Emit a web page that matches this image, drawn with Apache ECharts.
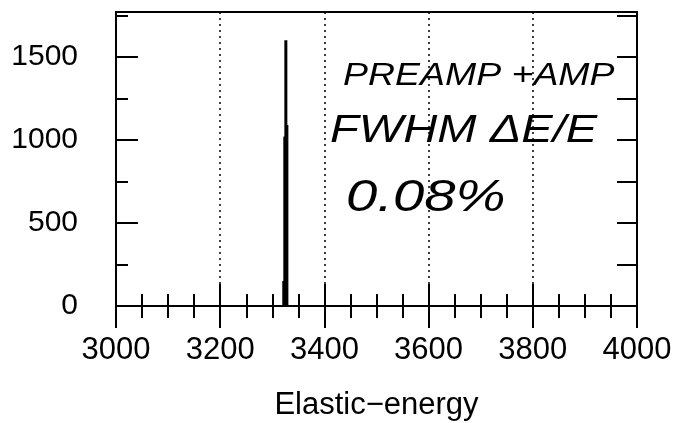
<!DOCTYPE html>
<html>
<head>
<meta charset="utf-8">
<script src="https://cdn.jsdelivr.net/npm/echarts@6/dist/echarts.min.js"></script>
<style>html,body{margin:0;padding:0;background:#fff;}#c{width:675px;height:423px;}</style>
</head>
<body>
<div id="c"></div>
<script>
// Histogram of elastic energy (bin centres and counts)
var binCenter = [3322, 3324, 3326, 3328];
var counts = [150, 1020, 1600, 1090];
var xTicks = [3000, 3200, 3400, 3600, 3800, 4000];
var yTicks = [0, 500, 1000, 1500];
var xName = 'Elastic\u2212energy';
var notes = ['PREAMP +AMP', 'FWHM \u0394E/E', '0.08%'];

var pts = [];
for (var i = 0; i < binCenter.length; i++) pts.push([binCenter[i], counts[i]]);

var chart = echarts.init(document.getElementById('c'), null, {renderer: 'canvas'});
var font = 'Liberation Sans';
var blk = '#000';
function plain(v) { return String(v); }
chart.setOption({
  animation: false,
  backgroundColor: '#fff',
  grid: {left: 116, right: 38, top: 12, bottom: 117, show: true, borderColor: blk, borderWidth: 2,
         backgroundColor: 'transparent', containLabel: false, outerBoundsMode: 'none'},
  xAxis: [{
    type: 'value', min: xTicks[0], max: xTicks[xTicks.length - 1], interval: xTicks[1] - xTicks[0], position: 'bottom',
    axisLine: {show: false},
    axisTick: {inside: true, length: 22, lineStyle: {color: blk, width: 2}},
    minorTick: {show: true, splitNumber: 4, length: 12, lineStyle: {color: blk, width: 2}},
    axisLabel: {color: blk, fontFamily: font, fontSize: 31, margin: 29, formatter: plain},
    splitLine: {show: true, lineStyle: {color: blk, type: [2, 4], width: 1.5}},
    name: xName, nameLocation: 'middle', nameGap: 84,
    nameTextStyle: {color: blk, fontFamily: font, fontSize: 31}
  }, {
    type: 'value', min: xTicks[0], max: xTicks[xTicks.length - 1], interval: xTicks[1] - xTicks[0], position: 'top',
    axisLine: {show: false},
    axisTick: {inside: true, length: 22, lineStyle: {color: blk, width: 2}},
    minorTick: {show: true, splitNumber: 4, length: 12, lineStyle: {color: blk, width: 2}},
    axisLabel: {show: false}, splitLine: {show: false}
  }],
  yAxis: [{
    type: 'value', min: 0, max: 1770, interval: yTicks[1] - yTicks[0], position: 'left',
    axisLine: {show: false},
    axisTick: {inside: true, length: 22, lineStyle: {color: blk, width: 2}},
    axisLabel: {color: blk, fontFamily: font, fontSize: 30, margin: 38, showMaxLabel: false, formatter: plain},
    splitLine: {show: false}
  }, {
    type: 'value', min: 0, max: 1770, interval: 250, position: 'left', offset: 0,
    axisLine: {show: false},
    axisTick: {inside: true, length: 12, lineStyle: {color: blk, width: 2}},
    axisLabel: {show: false}, splitLine: {show: false}
  }, {
    type: 'value', min: 0, max: 1770, interval: 250, position: 'right',
    axisLine: {show: false},
    axisTick: {inside: true, length: 20, lineStyle: {color: blk, width: 2}},
    axisLabel: {show: false}, splitLine: {show: false}
  }],
  series: [{
    type: 'bar', xAxisIndex: 0, yAxisIndex: 0, data: pts, barWidth: 3,
    itemStyle: {color: blk}
  }],
  graphic: [
    {type: 'text', x: 343, y: 60, scaleX: 1.17, style: {text: notes[0], fontFamily: font, fontStyle: 'italic', fontSize: 32, fill: blk}},
    {type: 'text', x: 330, y: 112, scaleX: 1.24, style: {text: notes[1], fontFamily: font, fontStyle: 'italic', fontSize: 38, fill: blk}},
    {type: 'text', x: 346, y: 176, scaleX: 1.25, style: {text: notes[2], fontFamily: font, fontStyle: 'italic', fontSize: 45, fill: blk}}
  ]
});
</script>
</body>
</html>
